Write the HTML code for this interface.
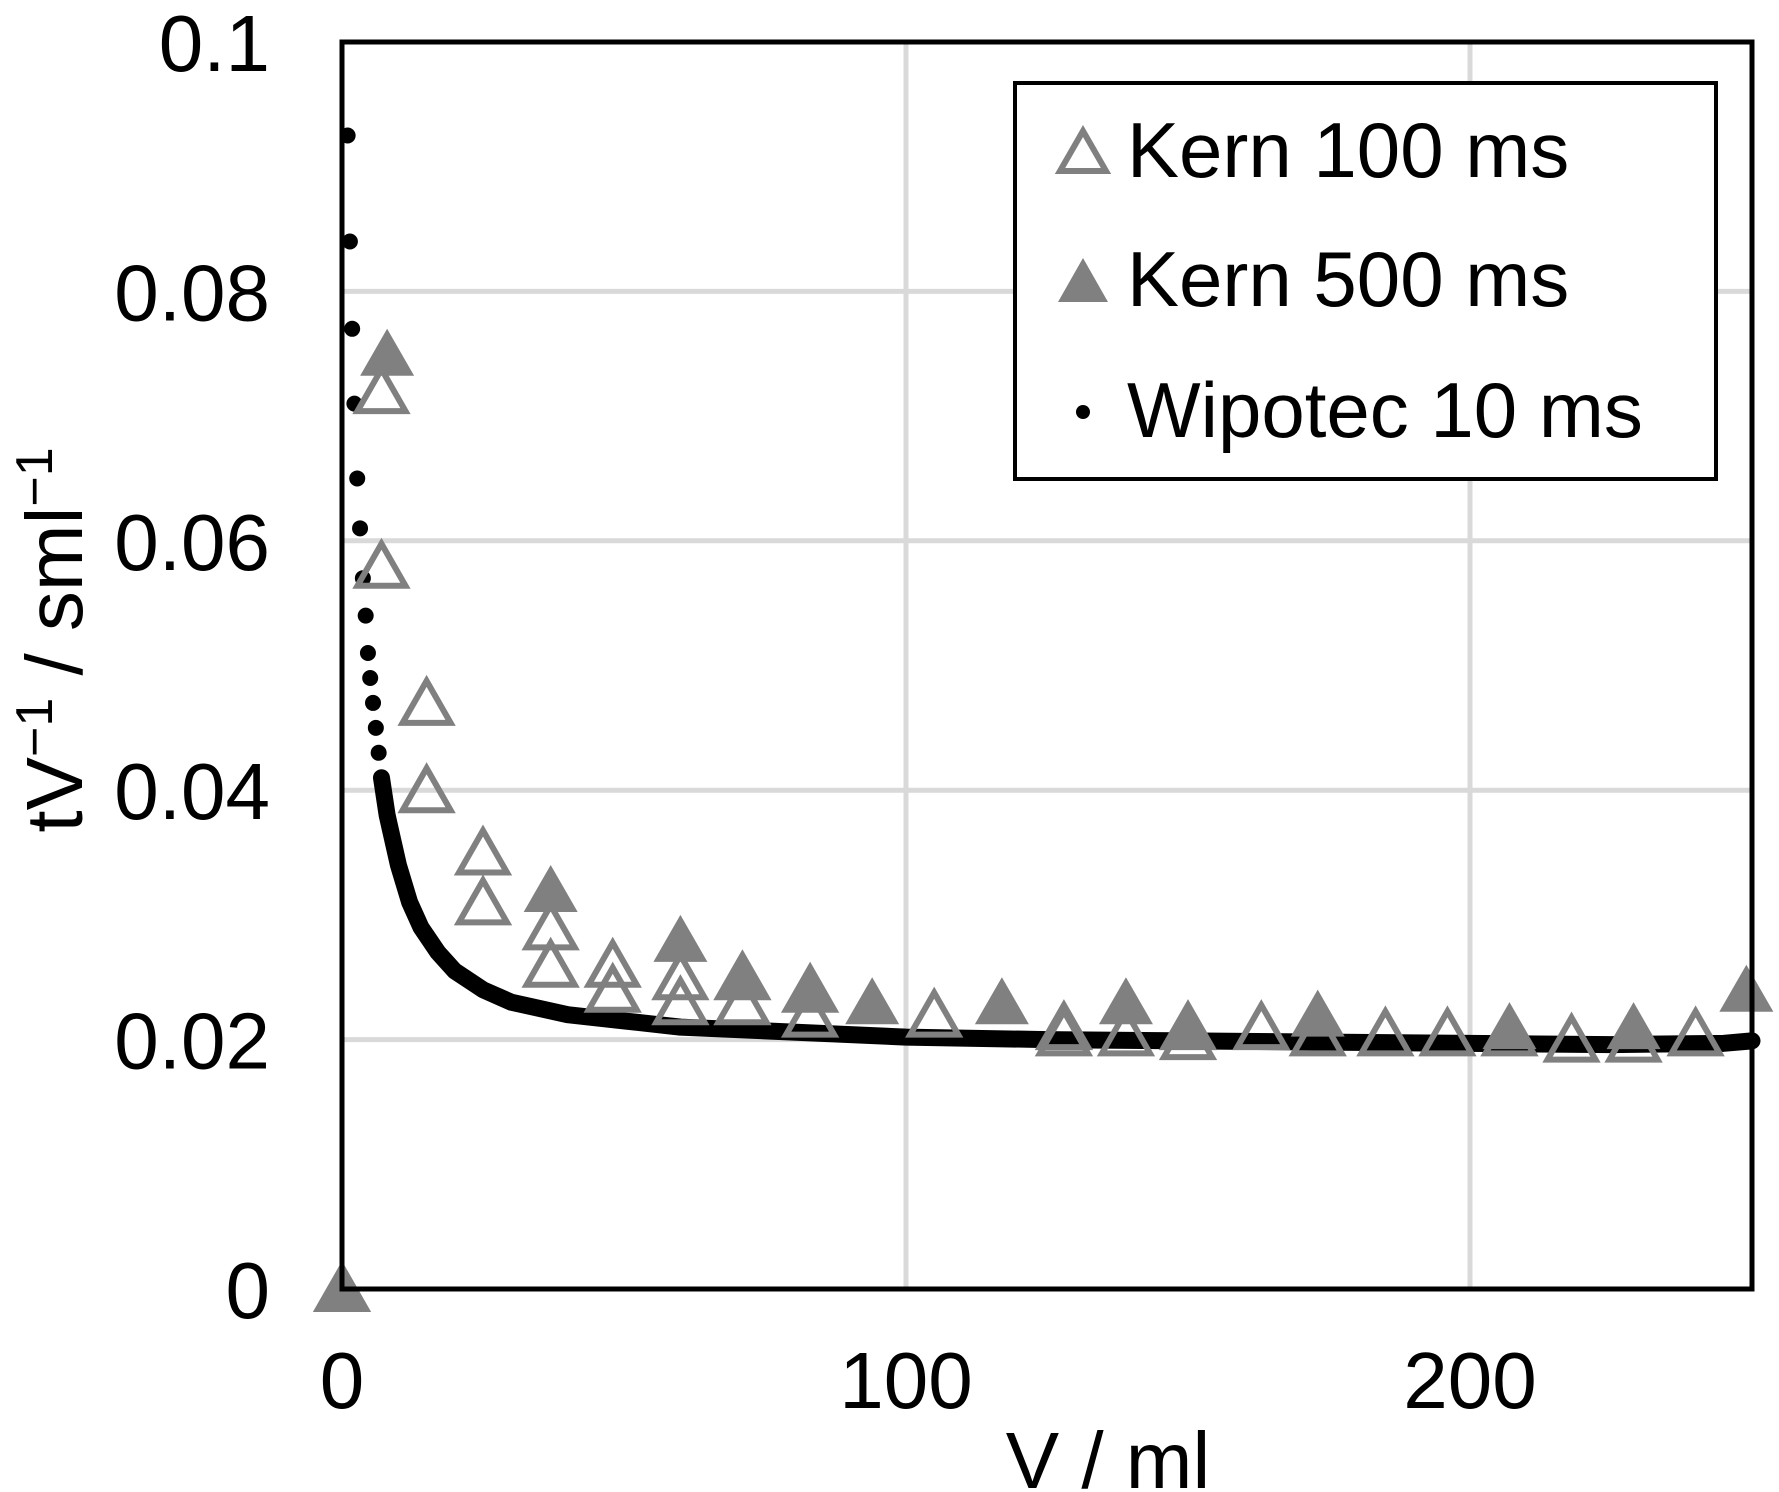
<!DOCTYPE html>
<html><head><meta charset="utf-8"><style>
html,body{margin:0;padding:0;background:#fff;}
svg{display:block;font-family:"Liberation Sans",Arial,sans-serif;}
</style></head><body>
<svg id="chart" width="1779" height="1492" viewBox="0 0 1779 1492" xmlns="http://www.w3.org/2000/svg">
<g id="grid"></g>
<g id="wip"></g>
<g id="k100"></g>
<g id="k500"></g>
<rect x="342" y="42" width="1410" height="1247" fill="none" stroke="#000" stroke-width="5"/>
<g id="ticks" font-size="80" fill="#000"></g>
<text transform="translate(82,640) rotate(-90)" text-anchor="middle" font-size="80">tV<tspan font-size="52" dy="-30">−1</tspan><tspan dy="30"> / sml</tspan><tspan font-size="52" dy="-30">−1</tspan></text>
<text x="1108" y="1488" text-anchor="middle" font-size="80">V / ml</text>
<g>
<rect x="1015" y="83" width="701" height="396" fill="#fff" stroke="#000" stroke-width="4"/>
<polygon points="1083,131 1060,171 1106,171" fill="#fff" stroke="#808080" stroke-width="6"/>
<text x="1127" y="177" font-size="78">Kern 100 ms</text>
<polygon points="1083,258 1058,302 1108,302" fill="#808080"/>
<text x="1127" y="306" font-size="78">Kern 500 ms</text>
<circle cx="1083" cy="412" r="7" fill="#000"/>
<text x="1127" y="437" font-size="78">Wipotec 10 ms</text>
</g>
</svg>
<script>
const xTicks=[0,100,200];
const yTicks=[0,0.02,0.04,0.06,0.08,0.1];
const yTickLabels=["0","0.02","0.04","0.06","0.08","0.1"];
const k100X=[0,7,7,15,15,25,25,37,37,48,48,60,60,71,71,83,83,105,128,128,139,150,150,163,173,185,196,207,218,229,240];
const k100Y=[0,0.072,0.058,0.047,0.040,0.035,0.031,0.029,0.026,0.026,0.024,0.025,0.023,0.025,0.023,0.024,0.022,0.022,0.021,0.0205,0.0205,0.021,0.0202,0.021,0.0205,0.0205,0.0205,0.0205,0.020,0.020,0.0205];
const k500X=[0,8,37,60,71,83,94,117,139,150,173,207,229,249];
const k500Y=[0,0.075,0.032,0.028,0.025,0.024,0.023,0.023,0.023,0.021,0.022,0.021,0.021,0.024];
const wipX=[0,1.0,1.4,1.8,2.2,2.7,3.2,3.7,4.2,4.6,5.0,5.5,6,6.5,7,7.5,8,9,10,12,14,17,20,25,30,40,50,60,75,100,125,150,175,200,225,245,250];
const wipY=[0,0.0925,0.084,0.077,0.071,0.065,0.061,0.057,0.054,0.051,0.049,0.047,0.045,0.043,0.041,0.0395,0.038,0.036,0.034,0.031,0.029,0.027,0.0255,0.024,0.023,0.022,0.0215,0.021,0.0207,0.0202,0.0200,0.0199,0.0198,0.0197,0.0196,0.0197,0.0199];
const NS="http://www.w3.org/2000/svg";
const X0=342,X1=1752,Y0=1289,Y1=42,XMAX=250,YMAX=0.1;
function sx(v){return X0+v/XMAX*(X1-X0);}
function sy(v){return Y0-v/YMAX*(Y0-Y1);}
function mk(tag,parent,attrs){const e=document.createElementNS(NS,tag);for(const k in attrs)e.setAttribute(k,attrs[k]);parent.appendChild(e);return e;}
const grid=document.getElementById('grid'),ticks=document.getElementById('ticks');
yTicks.forEach((v,i)=>{
  if(v>0&&v<YMAX){const l=mk('line',grid,{x1:X0,x2:X1,y1:sy(v),y2:sy(v),stroke:'#d9d9d9','stroke-width':5});
  
  }
  const t=mk('text',ticks,{x:270,y:sy(v)+29,'text-anchor':'end'});t.textContent=yTickLabels[i];
  
  
});
xTicks.forEach(v=>{
  if(v>0){const l=mk('line',grid,{x1:sx(v),x2:sx(v),y1:Y1,y2:Y0,stroke:'#d9d9d9','stroke-width':5});
  
  }
  const t=mk('text',ticks,{x:sx(v),y:1408,'text-anchor':'middle'});t.textContent=String(v);
  
  
});
const wip=document.getElementById('wip');
let pts=[];for(let i=1;i<wipX.length;i++){if(wipX[i]>=7)pts.push(sx(wipX[i])+','+sy(wipY[i]));}
const pl=mk('polyline',wip,{points:pts.join(' '),fill:'none',stroke:'#000','stroke-width':17,'stroke-linejoin':'round','stroke-linecap':'round'});


wipX.forEach((x,i)=>{const c=mk('circle',wip,{cx:sx(x),cy:sy(wipY[i]),r:8,fill:'#000'});

});
const k100=document.getElementById('k100');
k100X.forEach((x,i)=>{const cx=sx(x),cy=sy(k100Y[i]);
const p=mk('polygon',k100,{points:`${cx},${cy-22} ${cx-24},${cy+20} ${cx+24},${cy+20}`,fill:'none',stroke:'#808080','stroke-width':6});

});
const k500=document.getElementById('k500');
k500X.forEach((x,i)=>{const cx=sx(x),cy=sy(k500Y[i]);
const p=mk('polygon',k500,{points:`${cx},${cy-25} ${cx-27},${cy+22} ${cx+27},${cy+22}`,fill:'#808080'});

});
</script>
</body></html>
